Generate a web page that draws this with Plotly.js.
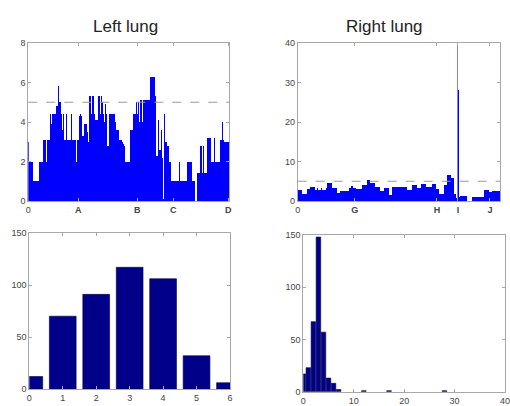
<!DOCTYPE html>
<html>
<head>
<meta charset="utf-8">
<script src="https://cdn.plot.ly/plotly-3.0.1.min.js"></script>
<style>html,body{margin:0;padding:0;background:#fff}#chart{width:510px;height:406px}</style>
</head>
<body>
<div id="chart"></div>
<script>
// ---- data ----
var leftLung = [
 3.0,2,2,2,2,1,1,1,1,1,
 1,2,2,2,2,3.1,3.1,3.1,2.0,3.1,
 3.1,3.1,4.4,3.9,4.4,4.4,4.4,4.4,4.8,4.8,
 5.8,5.0,5.0,4.4,3.6,4.4,3.1,3.1,4.4,3.1,
 3.1,3.1,3.1,4.4,3.1,3.1,3.1,3.1,2.0,3.1,
 3.1,4.3,4.4,4.3,3.3,3.3,3.9,3.9,3.9,3.5,
 3.0,5.3,5.3,4.4,5.3,5.3,4.4,4.1,4.1,4.1,
 5.3,5.3,4.4,5.3,5.0,4.4,4.0,4.9,4.4,2.8,
 2.8,4.4,4.4,4.4,4.4,4.4,4.4,4.0,3.6,3.6,
 3.6,3.1,3.1,3.1,3.0,2.9,2.8,2.0,2.0,2.0,
 2.0,2.0,3.6,3.6,3.6,4.4,4.4,4.4,5.0,4.4,
 5.0,4.0,5.1,5.1,4.0,5.1,5.1,5.1,5.1,5.1,
 5.1,5.1,6.3,6.3,6.3,6.3,6.3,5.3,2.3,2.3,
 4.1,2.6,2.6,3.6,2.2,0.1,4.4,3.0,3.0,2.8,
 2.8,2.0,2.0,1,1,1,1,1,1,1,
 1,2.0,1,1,1,1,1,1,1,2,
 2,2,2,2,1,1,1,0,0,1.4,
 1.4,1.4,2.8,2.8,1.4,2.8,1.4,1.4,1.4,3.2,
 3.2,3.2,3.2,2.0,2.0,2.0,3.2,2.0,2.0,2.0,
 2.0,2.0,3.1,3.1,4.0,3.1,3.0,3.0,3.0,3.0,
 3.0
];
var rightLung = [
 2.8,2.8,2.8,2.8,1.9,1.9,1.9,1.9,1.9,3.0,
 3.0,3.0,3.5,3.5,3.5,3.5,3.5,2.8,2.8,3.3,
 2.8,2.8,2.8,3.3,2.8,2.8,2.8,2.8,3.3,4.6,
 4.6,4.6,4.6,4.6,3.2,3.2,3.2,3.2,3.2,2.1,
 2.1,2.1,2.6,2.6,2.6,2.6,2.6,2.6,2.6,2.6,
 2.6,3.2,3.2,3.8,3.8,3.2,3.2,3.2,3.0,3.0,
 3.0,3.0,3.0,3.0,4.0,4.0,4.0,4.0,4.0,5.3,
 5.3,5.3,4.5,4.5,4.5,4.5,4.5,3.6,3.6,3.6,
 3.6,3.6,2.6,2.6,2.6,2.6,3.2,3.2,3.2,3.2,
 3.2,1.5,1.5,1.5,3.6,3.6,3.6,3.6,3.6,3.6,
 3.6,3.6,3.6,3.6,3.6,3.6,3.6,3.6,3.6,2.8,
 2.8,2.8,2.8,2.8,4.0,4.0,4.0,4.0,4.0,3.2,
 3.2,3.2,3.2,4.3,4.3,4.3,4.3,4.3,3.6,3.6,
 3.6,3.6,3.6,3.6,4.3,4.3,4.3,4.3,3.0,3.0,
 3.0,1.9,1.9,1.9,1.9,1.9,4.0,4.0,4.0,6.6,
 6.6,6.6,6.6,5.7,5.7,5.7,1.9,1.9,0.7,45,
 28,1.1,1.3,1.3,1.3,1.3,1.3,1.3,1.3,0,
 0,0,0,0,1.1,1.1,1.1,1.1,1.1,1.1,
 1.1,1.1,1.1,1.1,1.1,1.1,2.8,2.8,2.8,2.8,
 2.8,2.2,2.2,2.2,2.6,2.6,2.6,2.6,2.6,2.6,
 2.6,2.6
];
var leftTickVals = [0, 50, 109, 145, 200];
var leftTickText = ['0', '<b>A</b>', '<b>B</b>', '<b>C</b>', '<b>D</b>'];
var rightTickVals = [0, 57, 139, 160, 192];
var rightTickText = ['0', '<b>G</b>', '<b>H</b>', '<b>I</b>', '<b>J</b>'];
var threshold = 5;

var leftHistBins = [0, 1, 2, 3, 4, 5, 6];
var leftHistCounts = [12, 70, 91, 117, 106, 32, 6];
var rightHistBins = [0, 1, 2, 3, 4, 5, 6, 7, 12, 17, 28];
var rightHistCounts = [17, 23, 67, 148, 57, 13, 8, 2, 1, 1, 1];

var titles = ['Left lung', 'Right lung'];

// ---- build ----
function idx(arr){ return arr.map(function(_, i){ return i; }); }
var blue = '#0000ff', lightBlue = '#8080ff', navy = '#000088';

var traces = [
  {type:'bar', x: idx(leftLung), y: leftLung, offset: 0, width: 1,
   marker:{color: blue, line:{width:0}}, xaxis:'x', yaxis:'y', hoverinfo:'skip'},
  {type:'bar', x: idx(rightLung), y: rightLung, offset: 0, width: 1,
   marker:{color: rightLung.map(function(v){ return v > 40 ? lightBlue : blue; }), line:{width:0}},
   xaxis:'x2', yaxis:'y2', hoverinfo:'skip'},
  {type:'bar', x: leftHistBins, y: leftHistCounts, width: 0.8,
   marker:{color: navy, line:{color:'#000044', width:0.6}}, xaxis:'x3', yaxis:'y3', hoverinfo:'skip'},
  {type:'bar', x: rightHistBins, y: rightHistCounts, width: 0.9,
   marker:{color: navy, line:{color:'#000044', width:0.6}}, xaxis:'x4', yaxis:'y4', hoverinfo:'skip'}
];

function ax(extra){
  var a = {showline:true, linecolor:'#a8a8a8', linewidth:1, mirror:'ticks',
    ticks:'inside', ticklen:3, tickcolor:'#a8a8a8', showgrid:false, zeroline:false,
    tickfont:{family:'Liberation Sans, Arial, sans-serif', size:9, color:'#444'},
    ticklabeloverflow:'allow', fixedrange:true, automargin:false};
  for (var k in extra) a[k] = extra[k];
  return a;
}

var W = 510, H = 406;
function xd(a, b){ return [a / W, b / W]; }
function yd(top, bot){ return [1 - bot / H, 1 - top / H]; }

var layout = {
  width: W, height: H, margin:{l:0, r:0, t:0, b:0},
  paper_bgcolor:'#fff', plot_bgcolor:'#fff', showlegend:false, bargap:0,
  xaxis:  ax({domain: xd(28.3, 229.3), range:[0, leftLung.length], tickmode:'array', tickvals: leftTickVals, ticktext: leftTickText, anchor:'y'}),
  yaxis:  ax({domain: yd(43, 201), range:[0, 8], tickvals:[0,2,4,6,8], anchor:'x'}),
  xaxis2: ax({domain: xd(297.7, 500), range:[0, rightLung.length], tickmode:'array', tickvals: rightTickVals, ticktext: rightTickText, anchor:'y2'}),
  yaxis2: ax({domain: yd(43, 201), range:[0, 40], tickvals:[0,10,20,30,40], anchor:'x2'}),
  xaxis3: ax({domain: xd(29.3, 230), range:[0, 6], tickvals:[0,1,2,3,4,5,6], anchor:'y3'}),
  yaxis3: ax({domain: yd(233, 389), range:[0, 150], tickvals:[0,50,100,150], anchor:'x3'}),
  xaxis4: ax({domain: xd(303.3, 505), range:[0, 40], tickvals:[0,10,20,30,40], anchor:'y4'}),
  yaxis4: ax({domain: yd(235, 391.7), range:[0, 150], tickvals:[0,50,100,150], anchor:'x4'}),
  shapes: [
    {type:'line', xref:'x domain', yref:'y', x0:0, x1:1, y0:threshold, y1:threshold,
     line:{color:'#999', width:1, dash:'dash'}},
    {type:'line', xref:'x2 domain', yref:'y2', x0:0, x1:1, y0:threshold, y1:threshold,
     line:{color:'#999', width:1, dash:'dash'}}
  ],
  annotations: [
    {text: titles[0], xref:'paper', yref:'paper', x:125/W, y:1-27/H, xanchor:'center', yanchor:'middle',
     showarrow:false, font:{family:'Liberation Sans, Arial, sans-serif', size:17, color:'#222'}},
    {text: titles[1], xref:'paper', yref:'paper', x:384/W, y:1-27/H, xanchor:'center', yanchor:'middle',
     showarrow:false, font:{family:'Liberation Sans, Arial, sans-serif', size:17, color:'#222'}}
  ]
};

Plotly.newPlot('chart', traces, layout, {staticPlot:true, displayModeBar:false});
</script>
</body>
</html>
